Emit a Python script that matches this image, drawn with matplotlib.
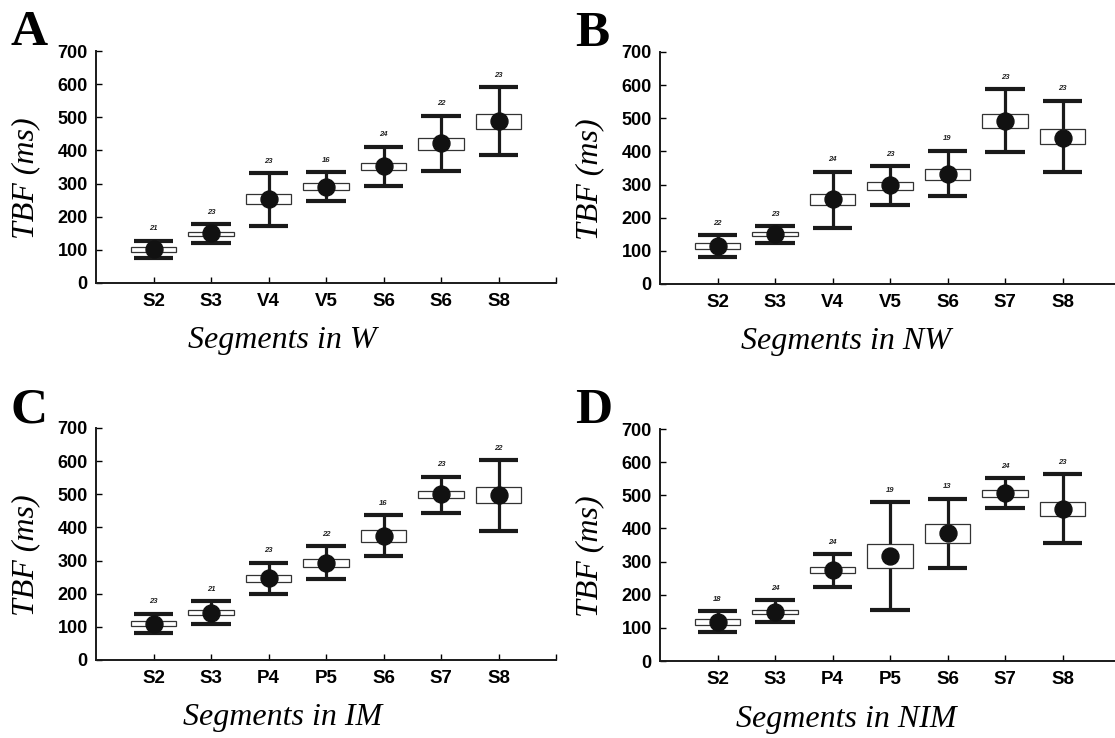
import matplotlib

matplotlib.use("Agg")
import matplotlib.pyplot as plt
import numpy as np

# values (ms)
PANELS = ["A", "B", "C", "D"]
XLABELS = ["Segments in W", "Segments in NW", "Segments in IM", "Segments in NIM"]

cats_a = ["S2", "S3", "V4", "V5", "S6", "S6", "S8"]
mean_a = [102, 150, 254, 291, 354, 423, 488]
box_lo_a = [95, 141, 237, 280, 340, 401, 465]
box_hi_a = [108, 153, 270, 302, 363, 438, 510]
wlo_a = [76, 120, 173, 248, 293, 339, 386]
whi_a = [128, 178, 331, 334, 411, 505, 590]
n_a = [21, 23, 23, 16, 24, 22, 23]

cats_b = ["S2", "S3", "V4", "V5", "S6", "S7", "S8"]
mean_b = [115, 151, 255, 298, 333, 492, 442]
box_lo_b = [107, 146, 238, 285, 315, 472, 422]
box_hi_b = [123, 156, 271, 309, 347, 512, 468]
wlo_b = [82, 125, 169, 239, 266, 397, 337]
whi_b = [147, 175, 339, 356, 402, 587, 553]
n_b = [22, 23, 24, 23, 19, 23, 23]

cats_c = ["S2", "S3", "P4", "P5", "S6", "S7", "S8"]
mean_c = [110, 143, 247, 293, 375, 500, 497]
box_lo_c = [103, 135, 235, 281, 357, 488, 473]
box_hi_c = [117, 151, 257, 304, 391, 511, 521]
wlo_c = [81, 109, 198, 244, 314, 445, 390]
whi_c = [140, 178, 294, 343, 436, 553, 603]
n_c = [23, 21, 23, 22, 16, 23, 22]

cats_d = ["S2", "S3", "P4", "P5", "S6", "S7", "S8"]
mean_d = [119, 149, 275, 317, 386, 507, 459]
box_lo_d = [110, 141, 266, 280, 356, 495, 437]
box_hi_d = [126, 155, 284, 354, 414, 515, 480]
wlo_d = [86, 117, 224, 154, 282, 461, 357]
whi_d = [150, 183, 322, 479, 490, 552, 563]
n_d = [18, 24, 24, 19, 13, 24, 23]

SANS = "Liberation Sans"
SERIF = "Liberation Serif"


def _draw_panel(ax, cats, mean, box_lo, box_hi, wlo, whi, n, xlabel, letter):
    x = np.arange(1, len(cats) + 1)
    ax.vlines(x, wlo, whi, color="#1a1a1a", lw=2.3, zorder=2)
    ax.hlines(wlo, x - 0.34, x + 0.34, color="#1a1a1a", lw=3.0, zorder=2)
    ax.hlines(whi, x - 0.34, x + 0.34, color="#1a1a1a", lw=3.0, zorder=2)
    lo = np.array(box_lo)
    hi = np.array(box_hi)
    ax.bar(x, hi - lo, bottom=lo, width=0.79, facecolor="white",
           edgecolor="#333333", linewidth=0.9, zorder=3)
    ax.plot(x, mean, "o", color="#111111", ms=12.2, zorder=4)
    for xi, top, cnt in zip(x, whi, n):
        ax.annotate(str(cnt), (xi, top), xytext=(0, 6), textcoords="offset points",
                    ha="center", va="bottom", fontsize=5.5, fontweight="bold",
                    fontstyle="italic", family=SANS, color="#222222")

    ax.set_xlim(0, 8)
    ax.set_ylim(0, 700)
    ax.set_xticks(x)
    ax.set_xticklabels(cats, fontsize=13.5, fontweight="bold", family=SANS)
    ax.set_xticks([8], minor=True)
    ax.set_yticks(np.arange(0, 701, 100))
    ax.set_yticklabels([str(v) for v in range(0, 701, 100)], fontsize=13,
                       fontweight="bold", family=SANS)
    ax.tick_params(axis="both", which="both", direction="in", length=4, width=1.0)
    ax.tick_params(axis="x", pad=7)
    ax.tick_params(axis="y", pad=6)
    for side in ("top", "right"):
        ax.spines[side].set_visible(False)
    for side in ("left", "bottom"):
        ax.spines[side].set_linewidth(1.4)
        ax.spines[side].set_color("#1a1a1a")

    ax.text(0.405, -0.25, xlabel, transform=ax.transAxes, ha="center", va="center",
            fontsize=23, fontstyle="italic", family=SERIF)
    ax.text(-0.152, 0.45, "TBF (ms)", transform=ax.transAxes, ha="center", va="center",
            rotation=90, fontsize=23, fontstyle="italic", family=SERIF)
    ax.text(-0.185, 1.025, letter, transform=ax.transAxes, ha="left", va="baseline",
            fontsize=37, fontweight="bold", family=SERIF)


def main():
    fig = plt.figure(figsize=(11.15, 7.38), dpi=100)
    w, h = 1115.0, 738.0
    boxes = [
        (96, 283),
        (660, 284),
        (96, 660),
        (660, 661),
    ]
    data = [
        (cats_a, mean_a, box_lo_a, box_hi_a, wlo_a, whi_a, n_a),
        (cats_b, mean_b, box_lo_b, box_hi_b, wlo_b, whi_b, n_b),
        (cats_c, mean_c, box_lo_c, box_hi_c, wlo_c, whi_c, n_c),
        (cats_d, mean_d, box_lo_d, box_hi_d, wlo_d, whi_d, n_d),
    ]
    for (left, bottom), vals, xlabel, letter in zip(boxes, data, XLABELS, PANELS):
        ax = fig.add_axes([left / w, 1 - bottom / h, 460 / w, 232 / h])
        _draw_panel(ax, *vals, xlabel, letter)

    fig.savefig("out.png", dpi=100)
    plt.close(fig)


if __name__ == "__main__":
    main()
